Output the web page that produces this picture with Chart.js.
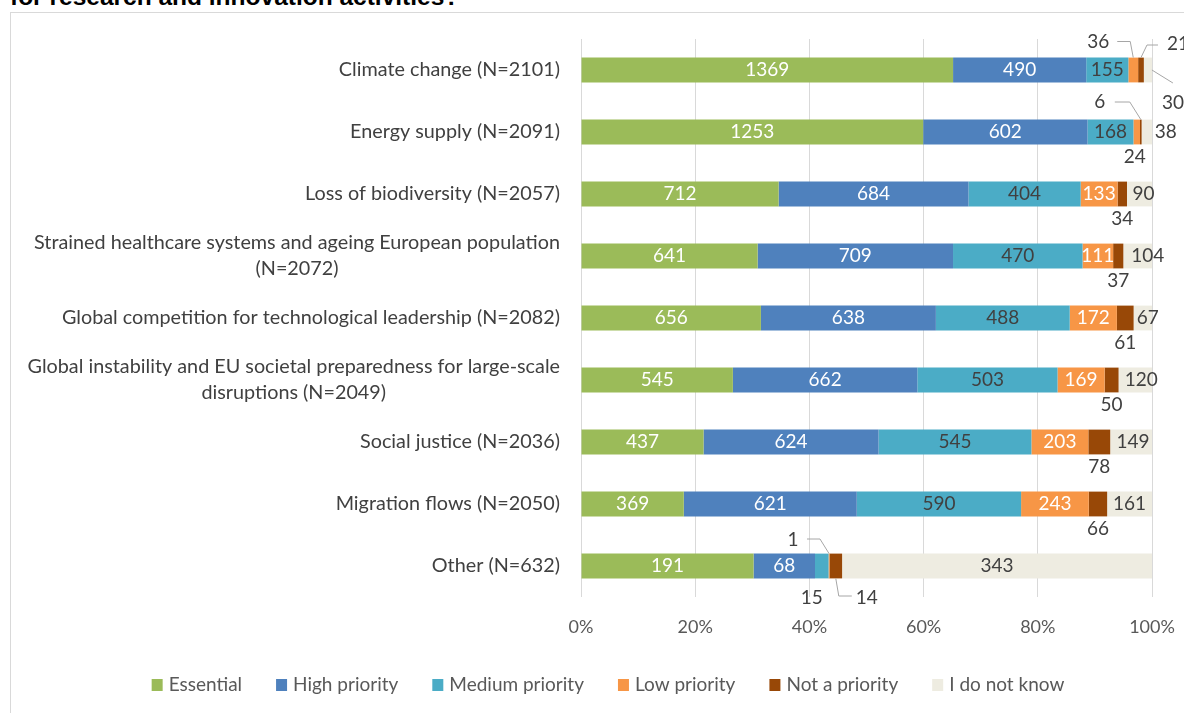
<!DOCTYPE html>
<html>
<head>
<meta charset="utf-8">
<script src="https://cdn.jsdelivr.net/npm/chart.js@4.4.0/dist/chart.umd.min.js"></script>
<style>
html, body { margin: 0; padding: 0; width: 1184px; height: 713px; overflow: hidden; background: #fff; }
#title { position: absolute; left: 10px; top: -15px; font: bold 24.5px "Liberation Sans", Arial, sans-serif; line-height: 24px; color: #000; white-space: nowrap; }
#frame { position: absolute; left: 10px; top: 12px; width: 1300px; height: 800px; border: 1px solid #d9d9d9; }
#priorities { position: absolute; left: 0; top: 0; }
</style>
</head>
<body>
<div id="title">for research and innovation activities?</div>
<div id="frame"></div>
<canvas id="priorities" width="1184" height="713"></canvas>
<script>
var categories = [
    ["Climate change (N=2101)"],
    ["Energy supply (N=2091)"],
    ["Loss of biodiversity (N=2057)"],
    ["Strained healthcare systems and ageing European population", "(N=2072)"],
    ["Global competition for technological leadership (N=2082)"],
    ["Global instability and EU societal preparedness for large-scale", "disruptions (N=2049)"],
    ["Social justice (N=2036)"],
    ["Migration flows (N=2050)"],
    ["Other (N=632)"]
];
var totals      = [2101, 2091, 2057, 2072, 2082, 2049, 2036, 2050, 632];
var essential   = [1369, 1253, 712, 641, 656, 545, 437, 369, 191];
var high        = [490, 602, 684, 709, 638, 662, 624, 621, 68];
var medium      = [155, 168, 404, 470, 488, 503, 545, 590, 15];
var low         = [36, 24, 133, 111, 172, 169, 203, 243, 1];
var notPriority = [21, 6, 34, 37, 61, 50, 78, 66, 14];
var dontKnow    = [30, 38, 90, 104, 67, 120, 149, 161, 343];
var xTicks      = [0, 20, 40, 60, 80, 100];

var FAMILY = 'Lato, "Noto Sans", sans-serif';
var DARK = '#404040';

function share(counts) {
    return counts.map(function (v, i) { return v / totals[i] * 100; });
}

var series = [
    { label: 'Essential',       counts: essential,   color: '#9bbb59', text: '#ffffff' },
    { label: 'High priority',   counts: high,        color: '#4f81bd', text: '#ffffff' },
    { label: 'Medium priority', counts: medium,      color: '#4bacc6', text: DARK },
    { label: 'Low priority',    counts: low,         color: '#f79646', text: '#ffffff' },
    { label: 'Not a priority',  counts: notPriority, color: '#984807', text: DARK },
    { label: 'I do not know',   counts: dontKnow,    color: '#eeece1', text: DARK }
];

// labels that sit outside their (too small) segment, "row:series"
// dx/dy from segment centre, line points likewise
var callouts = {
    '0:3': { dx: -35, dy: -28, align: 'center', line: [[-16, -28.5], [-3, -28.5], [0, -12.5]] },
    '0:4': { dx: 26,  dy: -26, align: 'left',   line: [[17, -25], [6, -25], [0, -12.5]] },
    '0:5': { dx: 14,  dy: 33,  align: 'left',   line: [[4, 0], [25, 13]] },
    '1:3': { dx: -2,  dy: 25,  align: 'center' },
    '1:4': { dx: -41, dy: -30, align: 'center', line: [[-26, -30], [-11, -30], [0, -12.5]] },
    '1:5': { dx: 8,   dy: 0,   align: 'left' },
    '8:2': { dx: -10, dy: 32,  align: 'center' },
    '8:3': { dx: -36, dy: -26, align: 'center', line: [[-22, -27], [-9, -27], [0, -12.5]] },
    '8:4': { dx: 20,  dy: 32,  align: 'left',   line: [[0, 12.5], [3, 30], [16, 30]] }
};
var dontKnowNudge = [0, 0, 4, 10, 5, 6, 2, 0, 0];

var segmentLabels = {
    id: 'segmentLabels',
    afterDatasetsDraw: function (chart) {
        var ctx = chart.ctx;
        ctx.save();
        ctx.font = '19px ' + FAMILY;
        ctx.textBaseline = 'middle';
        ctx.strokeStyle = '#a6a6a6';
        ctx.lineWidth = 1;
        chart.data.datasets.forEach(function (ds, d) {
            chart.getDatasetMeta(d).data.forEach(function (bar, r) {
                var cx = (bar.x + bar.base) / 2;
                var cy = bar.y;
                var text = String(ds.counts[r]);
                var c = callouts[r + ':' + d];
                if (c) {
                    if (c.line) {
                        ctx.beginPath();
                        c.line.forEach(function (p, k) {
                            if (k === 0) ctx.moveTo(cx + p[0], cy + p[1]);
                            else ctx.lineTo(cx + p[0], cy + p[1]);
                        });
                        ctx.stroke();
                    }
                    ctx.fillStyle = DARK;
                    ctx.textAlign = c.align;
                    ctx.fillText(text, cx + c.dx, cy + c.dy);
                } else if (d === 4) {
                    ctx.fillStyle = DARK;
                    ctx.textAlign = 'center';
                    ctx.fillText(text, cx, cy + 25);
                } else {
                    ctx.fillStyle = ds.textColor;
                    ctx.textAlign = 'center';
                    ctx.fillText(text, cx + (d === 5 ? dontKnowNudge[r] : 0), cy);
                }
            });
        });
        ctx.restore();
    }
};

// category names, right edge at 560, wrapped lines centred on each other
var categoryLabels = {
    id: 'categoryLabels',
    afterDraw: function (chart) {
        var ctx = chart.ctx;
        var y = chart.scales.y;
        ctx.save();
        ctx.font = '19.8px ' + FAMILY;
        ctx.fillStyle = DARK;
        ctx.textBaseline = 'middle';
        ctx.textAlign = 'center';
        categories.forEach(function (lines, i) {
            var w = Math.max.apply(null, lines.map(function (s) { return ctx.measureText(s).width; }));
            var mid = 560 - w / 2;
            var yc = y.getPixelForValue(i);
            lines.forEach(function (s, k) {
                ctx.fillText(s, mid, yc + (k - (lines.length - 1) / 2) * 26);
            });
        });
        ctx.restore();
    }
};

var bottomLegend = {
    id: 'bottomLegend',
    afterDraw: function (chart) {
        var ctx = chart.ctx;
        var sets = chart.data.datasets;
        ctx.save();
        ctx.font = '19px ' + FAMILY;
        ctx.textBaseline = 'middle';
        ctx.textAlign = 'left';
        var widths = sets.map(function (ds) { return 11 + 6 + ctx.measureText(ds.label).width; });
        var total = widths.reduce(function (a, b) { return a + b; }, 0) + 34 * (sets.length - 1);
        var x = 608 - total / 2;
        var y = 685;
        sets.forEach(function (ds, i) {
            ctx.fillStyle = ds.backgroundColor;
            ctx.fillRect(x, y - 6, 11, 12);
            ctx.fillStyle = '#595959';
            ctx.fillText(ds.label, x + 17, y);
            x += widths[i] + 34;
        });
        ctx.restore();
    }
};

var chart = new Chart(document.getElementById('priorities'), {
    type: 'bar',
    data: {
        labels: categories,
        datasets: series.map(function (s) {
            return {
                label: s.label,
                data: share(s.counts),
                counts: s.counts,
                textColor: s.text,
                backgroundColor: s.color,
                borderWidth: 0,
                barPercentage: 0.4,
                categoryPercentage: 1
            };
        })
    },
    options: {
        indexAxis: 'y',
        responsive: false,
        animation: false,
        layout: { padding: { left: 64, right: 32, top: 39, bottom: 0 } },
        plugins: {
            legend: { display: false },
            tooltip: { enabled: false }
        },
        scales: {
            x: {
                stacked: true,
                min: 0,
                max: 100,
                afterBuildTicks: function (scale) {
                    scale.ticks = xTicks.map(function (v) { return { value: v }; });
                },
                afterFit: function (scale) {
                    scale.height = 116;
                    scale.paddingLeft = 0;
                    scale.paddingRight = 0;
                },
                grid: { color: '#d9d9d9', lineWidth: 1, drawTicks: false },
                border: { display: false },
                ticks: {
                    padding: 19,
                    color: '#595959',
                    font: { family: 'Lato', size: 18 },
                    callback: function (v) { return v + '%'; }
                }
            },
            y: {
                stacked: true,
                afterFit: function (scale) { scale.width = 517; },
                grid: { display: false },
                border: { display: false },
                ticks: { display: false }
            }
        }
    },
    plugins: [segmentLabels, categoryLabels, bottomLegend]
});
</script>
</body>
</html>
